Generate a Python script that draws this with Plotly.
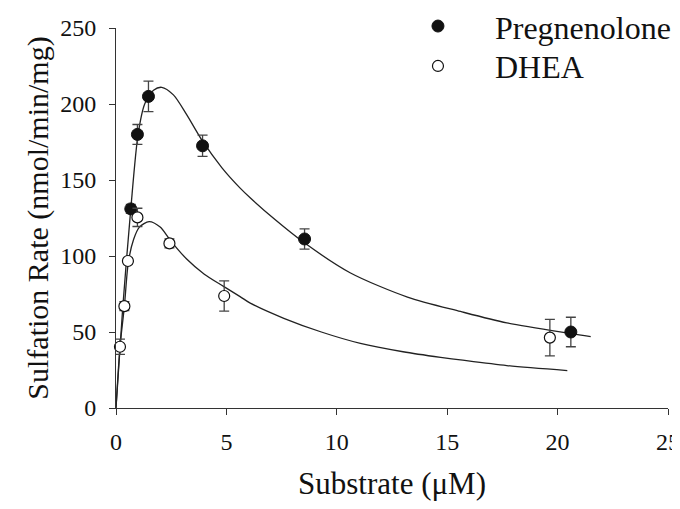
import plotly.graph_objects as go

preg_x = [0.67, 0.97, 1.47, 3.92, 8.54, 20.6]
preg_y = [131, 180, 205, 172.5, 111.2, 50]
preg_err = [3, 6.5, 10, 7, 6.7, 9.7]

dhea_x = [0.18, 0.38, 0.54, 0.97, 2.42, 4.9, 19.65]
dhea_y = [40.3, 67, 96.7, 125.4, 108.3, 73.7, 46.3]
dhea_err = [5, 3, 2, 6, 3, 10, 12]

# Fitted curves, points
preg_fit_x = [0, 0.3, 0.67, 1.0, 1.3, 1.7, 2.07, 2.6, 3.2, 3.9, 4.8, 5.6, 6.1, 7.2, 8.5, 10.6, 13.2, 15.6, 17.7, 20.6, 21.5]
preg_fit_y = [0, 65, 131, 180, 200, 209, 211, 206, 193, 176, 158, 145, 138, 124, 109, 89, 73, 63.5, 56, 49, 47]

dhea_fit_x = [0, 0.18, 0.38, 0.56, 0.8, 1.06, 1.5, 2.0, 2.45, 3.2, 4.0, 4.87, 5.62, 6.08, 7.6, 9.3, 11.07, 13.0, 14.7, 15.6, 17.7, 20.44]
dhea_fit_y = [0, 40, 67, 96, 111, 119, 122.6, 119, 110.5, 98, 88, 80, 73.3, 69, 59, 50, 42.5, 37, 33.3, 31.6, 27.9, 24.6]

x_ticks = [0, 5, 10, 15, 20, 25]
y_ticks = [0, 50, 100, 150, 200, 250]

FONT = "Liberation Serif"
fig = go.Figure()

fig.add_trace(go.Scatter(x=preg_fit_x, y=preg_fit_y, mode="lines", showlegend=False,
                         line=dict(color="#222222", width=1.3, shape="spline", smoothing=0.8),
                         hoverinfo="skip"))
fig.add_trace(go.Scatter(x=dhea_fit_x, y=dhea_fit_y, mode="lines", showlegend=False,
                         line=dict(color="#222222", width=1.3, shape="spline", smoothing=0.8),
                         hoverinfo="skip"))

fig.add_trace(go.Scatter(x=preg_x, y=preg_y, mode="markers", name="Pregnenolone", legend="legend",
                         marker=dict(symbol="circle", size=12, color="#111111",
                                     line=dict(color="#111111", width=1)),
                         error_y=dict(type="data", array=preg_err, visible=True,
                                      color="#444444", thickness=1.3, width=5),
                         cliponaxis=False))
fig.add_trace(go.Scatter(x=dhea_x, y=dhea_y, mode="markers", name="DHEA", legend="legend2",
                         marker=dict(symbol="circle", size=11, color="white",
                                     line=dict(color="#111111", width=1.2)),
                         error_y=dict(type="data", array=dhea_err, visible=True,
                                      color="#444444", thickness=1.3, width=5),
                         cliponaxis=False))

leg_common = dict(xanchor="left", yanchor="middle", xref="container", yref="container",
                  font=dict(family=FONT, size=32, color="#111111"),
                  bgcolor="rgba(0,0,0,0)", itemwidth=104)

# The page body adds an 8px margin, so the figure is kept smaller than the window
fig.update_layout(
    width=672, height=493,
    margin=dict(l=108, r=12, t=20, b=93, autoexpand=False),
    paper_bgcolor="white", plot_bgcolor="white",
    font=dict(family=FONT, color="black"),
    showlegend=True,
    legend=dict(x=0.555, y=0.963, **leg_common),
    legend2=dict(x=0.555, y=0.882, **leg_common),
    xaxis=dict(range=[0, 25], tickvals=x_ticks, ticks="outside", ticklen=6,
               tickcolor="#333333", showline=True, linecolor="#333333", linewidth=1,
               showgrid=False, zeroline=False, automargin=False, ticklabelstandoff=6,
               ticklabeloverflow="allow",
               tickfont=dict(family=FONT, size=24, color="#111111"),
               title=dict(text="Substrate (μM)", font=dict(family=FONT, size=31, color="#111111"),
                          standoff=18)),
    yaxis=dict(range=[0, 250], tickvals=y_ticks, ticks="outside", ticklen=6,
               tickcolor="#333333", showline=True, linecolor="#333333", linewidth=1,
               showgrid=False, zeroline=False, automargin=False, ticklabelstandoff=8,
               ticklabeloverflow="allow",
               tickfont=dict(family=FONT, size=24, color="#111111"),
               title=dict(text="Sulfation Rate (nmol/min/mg)",
                          font=dict(family=FONT, size=30, color="#111111"), standoff=2)),
)

fig.write_html("out.html")
